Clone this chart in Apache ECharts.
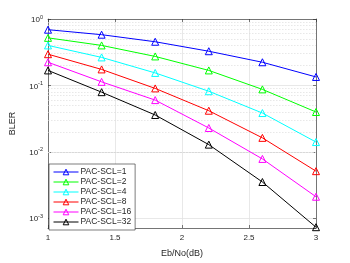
<!DOCTYPE html>
<html><head><meta charset="utf-8">
<script src="https://cdn.jsdelivr.net/npm/echarts@6/dist/echarts.min.js"></script>
<style>html,body{margin:0;padding:0;background:#fff}#c{width:350px;height:263px}</style>
</head><body><div id="c"></div>
<script>
const ebno = [1, 1.4, 1.8, 2.2, 2.6, 3];
const names = ['PAC-SCL=1','PAC-SCL=2','PAC-SCL=4','PAC-SCL=8','PAC-SCL=16','PAC-SCL=32'];
const scl1  = [0.69, 0.58, 0.454, 0.327, 0.223, 0.134];
const scl2  = [0.52, 0.40, 0.273, 0.168, 0.087, 0.0397];
const scl4  = [0.40, 0.264, 0.154, 0.0816, 0.0383, 0.014];
const scl8  = [0.295, 0.174, 0.090, 0.0415, 0.0162, 0.0051];
const scl16 = [0.223, 0.113, 0.060, 0.0228, 0.0078, 0.0021];
const scl32 = [0.168, 0.079, 0.0358, 0.0128, 0.0035, 0.00073];
const colors = ['#0000ff','#00ff00','#00ffff','#ff0000','#ff00ff','#000000'];
const xTicks = ['1','1.5','2','2.5','3'];
const yMin = 0.00071, yMax = 1;
const minorGrid = [];
[0.001, 0.01, 0.1].forEach(d => { for (let m = 2; m <= 9; m++) minorGrid.push(+(m*d).toPrecision(3)); });
minorGrid.push(0.0008, 0.0009);

const all = [scl1, scl2, scl4, scl8, scl16, scl32];
const font = 'Liberation Sans, Arial, sans-serif';
const axisCol = '#262626';
const series = all.map((arr, i) => ({
  name: names[i], type: 'line', xAxisIndex: 0, yAxisIndex: 0,
  data: arr.map((v, j) => [ebno[j], v]),
  symbol: 'triangle', symbolSize: 7, showSymbol: true,
  lineStyle: {color: colors[i], width: 1},
  itemStyle: {color: 'rgba(255,255,255,0)', borderColor: colors[i], borderWidth: 1},
  z: 5
}));
series.push({
  type: 'line', data: [], xAxisIndex: 0, yAxisIndex: 0, silent: true,
  markLine: {silent: true, symbol: ['none','none'], label: {show: false},
    lineStyle: {color: '#d8d8d8', type: [1.5, 1.5], width: 0.6},
    data: minorGrid.filter(v => v > yMin).map(v => ({yAxis: v}))}
});
const yLabel = v => {
  const e = Math.round(Math.log10(v));
  if (Math.abs(Math.log10(v) - e) > 1e-6) return '';
  return '{b|10}{s|' + e + '}';
};
const option = {
  animation: false,
  grid: {left: 45, right: 34, top: 19, height: 214},
  legend: {
    orient: 'vertical', left: 49, top: 164,
    data: names.map((n, i) => ({name: n,
      itemStyle: {color: 'rgba(255,255,255,0)', borderColor: colors[i], borderWidth: 1},
      lineStyle: {color: colors[i], width: 1}})),
    itemWidth: 25, itemHeight: 7, itemGap: 0,
    padding: [3, 4, 3, 4],
    backgroundColor: '#fff', borderColor: axisCol, borderWidth: 0.6,
    textStyle: {fontFamily: font, fontSize: 8.5, lineHeight: 10, color: axisCol, padding: [0,0,0,-3]}
  },
  xAxis: [{
    type: 'value', min: 1, max: 3, interval: 0.5, position: 'bottom',
    name: 'Eb/No(dB)', nameLocation: 'middle', nameGap: 21,
    nameTextStyle: {fontFamily: font, fontSize: 9, color: axisCol},
    axisLine: {show: true, lineStyle: {color: axisCol, width: 0.6}},
    axisTick: {show: true, inside: true, length: 3, lineStyle: {color: axisCol, width: 0.6}},
    axisLabel: {fontFamily: font, fontSize: 8, color: axisCol, margin: 6,
      formatter: v => xTicks.find(t => Math.abs(parseFloat(t) - v) < 1e-9) || ''},
    splitLine: {show: true, lineStyle: {color: '#e2e2e2', width: 0.8}}
  }, {
    type: 'value', min: 1, max: 3, interval: 0.5, position: 'top',
    axisLine: {show: true, lineStyle: {color: axisCol, width: 0.6}},
    axisTick: {show: true, inside: true, length: 3, lineStyle: {color: axisCol, width: 0.6}},
    axisLabel: {show: false}, splitLine: {show: false}
  }],
  yAxis: [{
    type: 'log', logBase: 10, min: yMin, max: yMax, position: 'left',
    name: 'BLER', nameLocation: 'middle', nameGap: 31,
    nameTextStyle: {fontFamily: font, fontSize: 9, color: axisCol},
    axisLine: {show: true, lineStyle: {color: axisCol, width: 0.6}},
    axisTick: {show: true, inside: true, length: 3, lineStyle: {color: axisCol, width: 0.6}},
    axisLabel: {fontFamily: font, color: axisCol, margin: 5, formatter: yLabel,
      rich: {b: {fontSize: 8, fontFamily: font, color: axisCol, lineHeight: 10, verticalAlign: 'bottom'},
             s: {fontSize: 5.5, fontFamily: font, color: axisCol, lineHeight: 10, verticalAlign: 'top'}}},
    splitLine: {show: true, lineStyle: {color: '#e2e2e2', width: 0.8}}
  }, {
    type: 'log', logBase: 10, min: yMin, max: yMax, position: 'right',
    axisLine: {show: true, lineStyle: {color: axisCol, width: 0.6}},
    axisTick: {show: true, inside: true, length: 3, lineStyle: {color: axisCol, width: 0.6}},
    axisLabel: {show: false}, splitLine: {show: false}
  }],
  series: series
};
const chart = echarts.init(document.getElementById('c'), null, {renderer: 'canvas'});
chart.setOption(option);
</script></body></html>
